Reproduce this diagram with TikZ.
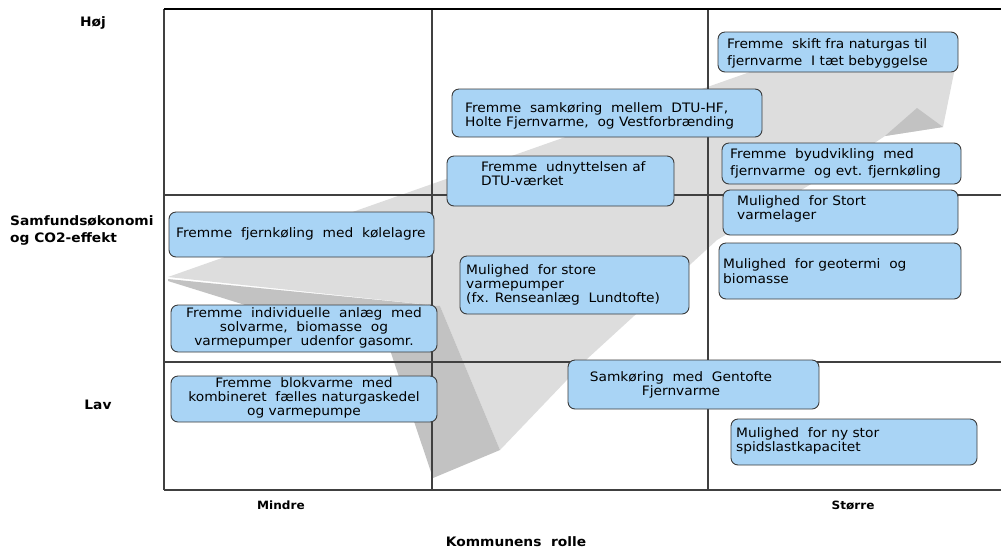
\documentclass[tikz,border=0pt]{standalone}
\usepackage{fontspec}
\setmainfont{DejaVu Sans}[FakeStretch=1.06]
\usetikzlibrary{fit}
\definecolor{boxfill}{HTML}{A9D4F5}
\definecolor{boxline}{HTML}{3A3A3A}
\definecolor{gridline}{HTML}{404040}
\definecolor{arrowlight}{HTML}{DDDDDD}
\definecolor{arrowdark}{HTML}{C2C2C2}
\begin{document}
\begin{tikzpicture}[x=1pt,y=-1pt,
  qbox/.style={draw=boxline, fill=boxfill, rounded corners=7pt, line width=0.9pt, inner sep=0pt},
  txt/.style={font=\fontsize{13}{14.4}\selectfont, inner sep=0pt, align=left, anchor=west, text=black},
  txtc/.style={txt, align=center, anchor=center},
  txtb/.style={font=\fontsize{13}{16.5}\selectfont, inner sep=0pt, align=left, anchor=west, text=black},
  lab/.style={font=\bfseries\fontsize{13}{17.5}\selectfont, inner sep=0pt, text=black},
  labs/.style={font=\bfseries\fontsize{11.4}{13}\selectfont, inner sep=0pt, text=black},
  grid/.style={draw=gridline, line width=1.1pt}]
\useasboundingbox (0,0) rectangle (1001,550);
% big arrow
\fill[arrowlight] (168,277) -- (750,72) -- (957,58) -- (943,127) -- (885,136) -- (823,177) -- (717,240) -- (587,359) -- (500,450) -- (440,306) -- cycle;
\fill[arrowdark] (168,279) -- (440,306) -- (500,450) -- (433,478) -- (390,350) -- (168,281) -- cycle;
\fill[arrowdark] (917,108) -- (943,127) -- (885,136) -- cycle;
% grid
\foreach \x in {164,432,708} \draw[grid] (\x,9) -- (\x,490);
\foreach \y in {195,362,490} \draw[grid] (164,\y) -- (1001,\y);
\draw[black, line width=2.2pt] (164,9) -- (1001,9);
% boxes
\node[qbox, fit={(718,32) (958,72)}] (b1) {};
\node[qbox, fit={(452,89) (762,137)}] (b2) {};
\node[qbox, fit={(447,156) (674,206)}] (b3) {};
\node[qbox, fit={(722,143) (961,184)}] (b4) {};
\node[qbox, fit={(723,190) (958,235)}] (b5) {};
\node[qbox, fit={(719,243) (961,299)}] (b6) {};
\node[qbox, fit={(169,212) (434,257)}] (b7) {};
\node[qbox, fit={(460,256) (689,314)}] (b8) {};
\node[qbox, fit={(171,305) (437,352)}] (b9) {};
\node[qbox, fit={(171,376) (437,422)}] (b10) {};
\node[qbox, fit={(568,360) (819,409)}] (b11) {};
\node[qbox, fit={(731,419) (977,465)}] (b12) {};
% texts
\node[txtb] (t1) at (727,53.5) {Fremme~ skift fra naturgas til\\fjernvarme~ I tæt bebyggelse};
\node[txt] (t2) at (465,116) {Fremme~ samkøring~ mellem~ DTU-HF,\\Holte Fjernvarme,~ og Vestforbrænding};
\node[txt] (t3) at (481,173.5) {Fremme~ udnyttelsen af\\DTU-værket};
\node[txtb] (t4) at (730,163.5) {Fremme~ byudvikling~ med\\fjernvarme~ og evt. fjernkøling};
\node[txt] (t5) at (737,209) {Mulighed~ for Stort\\varmelager};
\node[txt] (t6) at (723,271) {Mulighed~ for geotermi~ og\\biomasse};
\node[txt] (t7) at (176,234) {Fremme~ fjernkøling~ med~ kølelagre};
\node[txt] (t8) at (466,285) {Mulighed~ for store\\varmepumper\\(fx. Renseanlæg~ Lundtofte)};
\node[txtc] (t9) at (304,328) {Fremme~ individuelle~ anlæg~ med\\solvarme,~ biomasse~ og\\varmepumper~ udenfor gasomr.};
\node[txtc] (t10) at (304,398) {Fremme~ blokvarme~ med\\kombineret~ fælles naturgaskedel\\og varmepumpe};
\node[txtc] (t11) at (681,385) {Samkøring~ med~ Gentofte\\Fjernvarme};
\node[txt] (t12) at (736,441) {Mulighed~ for ny stor\\spidslastkapacitet};
% axis labels
\node[lab] (hoj) at (93,23) {Høj};
\node[lab, align=left, anchor=west] (samf) at (10,230.5) {Samfundsøkonomi\\og CO2-effekt};
\node[lab] (lav) at (98,405) {Lav};
\node[labs] (mindre) at (281,505) {Mindre};
\node[labs] (storre) at (853,506) {Større};
\node[lab] (rolle) at (516,542) {Kommunens~ rolle};
\end{tikzpicture}
\end{document}
